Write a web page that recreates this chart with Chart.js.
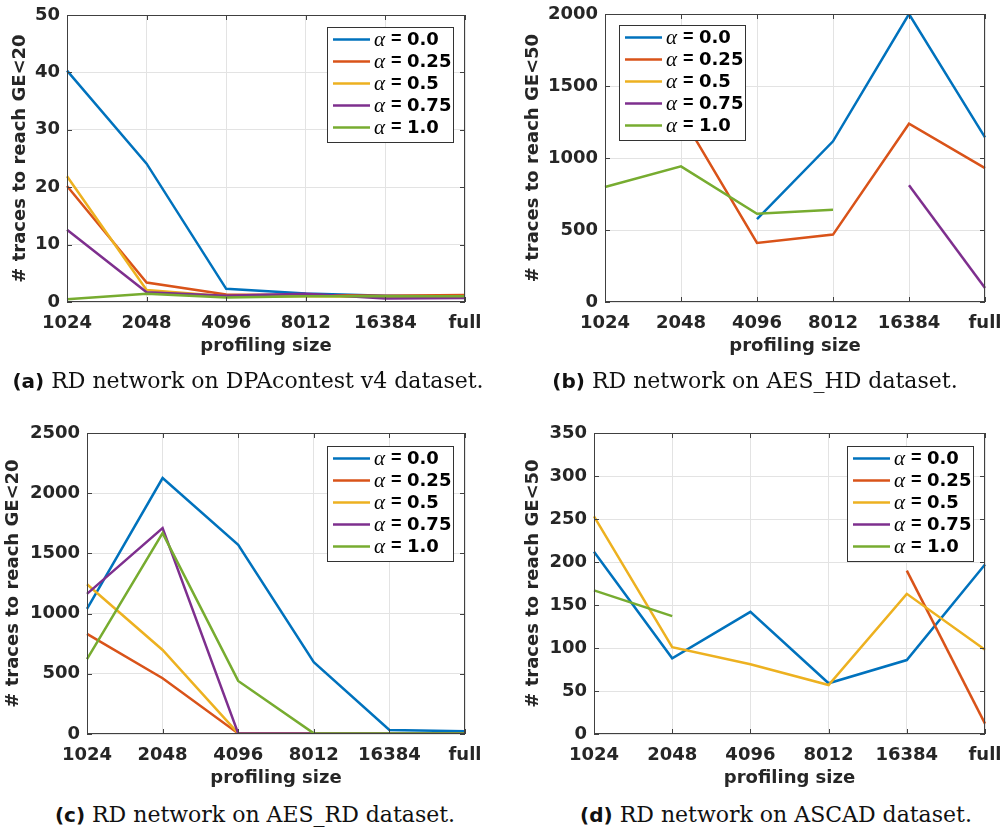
<!DOCTYPE html>
<html>
<head>
<meta charset="utf-8">
<script src="https://cdn.jsdelivr.net/npm/chart.js@4/dist/chart.umd.min.js"></script>
<style>
  body { margin: 0; background: #fff; width: 1003px; height: 833px; position: relative; overflow: hidden; }
  canvas { position: absolute; }
  .cap { position: absolute; width: 500px; text-align: center; font-family: "DejaVu Serif", serif; font-size: 22px; line-height: 26px; color: #111; white-space: nowrap; }
  .cap b { font-family: "DejaVu Sans", sans-serif; font-size: 20px; }
</style>
</head>
<body>
<canvas id="chartA" width="500" height="370" style="left:0;top:0"></canvas>
<canvas id="chartB" width="503" height="370" style="left:500px;top:0"></canvas>
<canvas id="chartC" width="500" height="380" style="left:0;top:420px"></canvas>
<canvas id="chartD" width="503" height="380" style="left:500px;top:420px"></canvas>
<div class="cap" style="left:-2px;top:368px"><b>(a)</b> RD network on DPAcontest v4 dataset.</div>
<div class="cap" style="left:505px;top:368px"><b>(b)</b> RD network on AES_HD dataset.</div>
<div class="cap" style="left:5px;top:802px"><b>(c)</b> RD network on AES_RD dataset.</div>
<div class="cap" style="left:526px;top:802px"><b>(d)</b> RD network on ASCAD dataset.</div>
<script>
// x categories (profiling size)
const sizes = ["1024", "2048", "4096", "8012", "16384", "full"];
const alphaLabels = ["α = 0.0", "α = 0.25", "α = 0.5", "α = 0.75", "α = 1.0"];
const colors = ["#0072BD", "#D95319", "#EDB120", "#7E2F8E", "#77AC30"];

// (a) DPAcontest v4, traces to reach GE<20
const dpaA00 = [40.3, 24.1, 2.3, 1.5, 1.1, 1.0];
const dpaA25 = [20.2, 3.4, 1.3, 1.2, 1.1, 1.2];
const dpaA50 = [21.9, 2.1, 1.0, 1.0, 0.9, 1.0];
const dpaA75 = [12.6, 1.7, 1.1, 1.45, 0.6, 0.7];
const dpaA100 = [0.5, 1.45, 0.8, 1.0, 1.0, 1.0];

// (b) AES_HD, traces to reach GE<50
const hdA00 = [null, null, 576, 1116, 2000, 1143];
const hdA25 = [null, 1300, 410, 468, 1238, 930];
const hdA50 = [null, null, null, null, null, null];
const hdA75 = [null, null, null, null, 810, 97];
const hdA100 = [799, 942, 613, 641, null, null];

// (c) AES_RD, traces to reach GE<20
const rdA00 = [1039, 2126, 1571, 596, 33, 22];
const rdA25 = [831, 463, 5, 5, 5, 5];
const rdA50 = [1244, 698, 5, 5, 5, 5];
const rdA75 = [1164, 1710, 5, 5, 5, 5];
const rdA100 = [621, 1668, 441, 5, 5, 5];

// (d) ASCAD, traces to reach GE<50
const ascadA00 = [212, 88, 142, 59, 86, 197];
const ascadA25 = [null, null, null, null, 190, 12];
const ascadA50 = [253, 101, 81, 57, 163, 98];
const ascadA75 = [null, null, null, null, null, null];
const ascadA100 = [167, 137, null, null, null, null];

const tickFont = { family: "DejaVu Sans", size: 18, weight: "bold" };

// frame with inward ticks + matlab-like legend box
const boxPlugin = {
  id: "box",
  afterDatasetsDraw(chart) {
    const { ctx, chartArea: a } = chart;
    const xs = chart.scales.x, ys = chart.scales.y;
    ctx.save();
    ctx.strokeStyle = "#404040";
    ctx.lineWidth = 1;
    ctx.beginPath();
    xs.ticks.forEach((t, i) => {
      const px = Math.round(xs.getPixelForTick(i)) + 0.5;
      ctx.moveTo(px, a.bottom); ctx.lineTo(px, a.bottom - 5);
      ctx.moveTo(px, a.top); ctx.lineTo(px, a.top + 5);
    });
    ys.ticks.forEach((t, i) => {
      const py = Math.round(ys.getPixelForTick(i)) + 0.5;
      ctx.moveTo(a.left, py); ctx.lineTo(a.left + 5, py);
      ctx.moveTo(a.right, py); ctx.lineTo(a.right - 5, py);
    });
    ctx.stroke();
    ctx.strokeRect(Math.round(a.left) + 0.5, Math.round(a.top) + 0.5, Math.round(a.width) - 1, Math.round(a.height) - 1);
    ctx.restore();
  },
  afterDraw(chart, args, opts) {
    const { ctx, chartArea: a } = chart;
    const w = 126, h = 115;
    const x = Math.round(opts.anchor === "right" ? a.right - opts.dx - w : a.left + opts.dx);
    const y = Math.round(a.top + opts.dy);
    ctx.save();
    ctx.fillStyle = "#fff";
    ctx.fillRect(x, y, w, h);
    ctx.strokeStyle = "#333";
    ctx.lineWidth = 1;
    ctx.strokeRect(x + 0.5, y + 0.5, w, h);
    chart.data.datasets.forEach((ds, i) => {
      const cy = y + 12.5 + i * 22;
      ctx.strokeStyle = ds.borderColor;
      ctx.lineWidth = 2.5;
      ctx.beginPath();
      ctx.moveTo(x + 6, cy); ctx.lineTo(x + 43, cy);
      ctx.stroke();
      const [sym, val] = ds.label.split(" = ");
      ctx.fillStyle = "#000";
      ctx.textBaseline = "middle";
      ctx.textAlign = "left";
      ctx.font = 'italic 21px "Liberation Serif"';
      ctx.fillText(sym, x + 47, cy + 1);
      ctx.font = 'bold 18px "Liberation Sans"';
      ctx.fillText("=", x + 64, cy);
      ctx.font = 'bold 18px "DejaVu Sans"';
      ctx.fillText(val, x + 80, cy + 1);
    });
    ctx.restore();
  }
};

function makeChart(id, series, yMax, yStep, yTitle, lay) {
  const datasets = series.map((vals, i) => ({
    label: alphaLabels[i],
    data: vals,
    borderColor: colors[i],
    backgroundColor: colors[i],
    borderWidth: 2.5,
    pointRadius: 0,
    tension: 0,
    spanGaps: false,
    order: series.length - i // later alpha drawn on top, like matlab
  }));
  return new Chart(document.getElementById(id), {
    type: "line",
    data: { labels: sizes, datasets: datasets },
    options: {
      responsive: false,
      animation: false,
      layout: { padding: { left: 0, top: lay.top, right: lay.right, bottom: 0 } },
      plugins: {
        legend: { display: false },
        tooltip: { enabled: false },
        box: { anchor: lay.legAnchor, dx: lay.legDx, dy: lay.legDy }
      },
      scales: {
        x: {
          offset: false,
          grid: { color: "#e3e3e3", drawTicks: false },
          border: { display: false },
          ticks: { font: tickFont, color: "#262626", padding: 11, maxRotation: 0, autoSkip: false },
          title: { display: true, text: "profiling size", font: tickFont, color: "#262626", padding: { bottom: lay.xTitlePad, top: 0 } },
          afterFit(s) { s.height = lay.xH; s.paddingLeft = 0; s.paddingRight = 0; }
        },
        y: {
          min: 0,
          max: yMax,
          grid: { color: "#e3e3e3", drawTicks: false },
          border: { display: false },
          ticks: { stepSize: yStep, font: tickFont, color: "#262626", padding: 7, callback: (v) => String(v) },
          title: { display: true, text: yTitle, font: tickFont, color: "#262626", padding: { top: lay.yTitlePad, bottom: 0 } },
          afterFit(s) { s.width = lay.yW; s.paddingTop = 0; s.paddingBottom = 0; }
        }
      }
    },
    plugins: [boxPlugin]
  });
}

makeChart("chartA", [dpaA00, dpaA25, dpaA50, dpaA75, dpaA100], 50, 10, "# traces to reach GE<20",
  { top: 15, right: 35, yW: 67, xH: 68, xTitlePad: 13, yTitlePad: 10, legAnchor: "right", legDx: 12, legDy: 12 });
makeChart("chartB", [hdA00, hdA25, hdA50, hdA75, hdA100], 2000, 500, "# traces to reach GE<50",
  { top: 14, right: 18, yW: 105, xH: 68, xTitlePad: 13, yTitlePad: 23, legAnchor: "left", legDx: 14, legDy: 11 });
makeChart("chartC", [rdA00, rdA25, rdA50, rdA75, rdA100], 2500, 500, "# traces to reach GE<20",
  { top: 13, right: 35, yW: 87, xH: 66, xTitlePad: 11, yTitlePad: 3, legAnchor: "right", legDx: 12, legDy: 13 });
makeChart("chartD", [ascadA00, ascadA25, ascadA50, ascadA75, ascadA100], 350, 50, "# traces to reach GE<50",
  { top: 13, right: 18, yW: 94, xH: 66, xTitlePad: 11, yTitlePad: 23, legAnchor: "right", legDx: 12, legDy: 13 });
</script>
</body>
</html>
